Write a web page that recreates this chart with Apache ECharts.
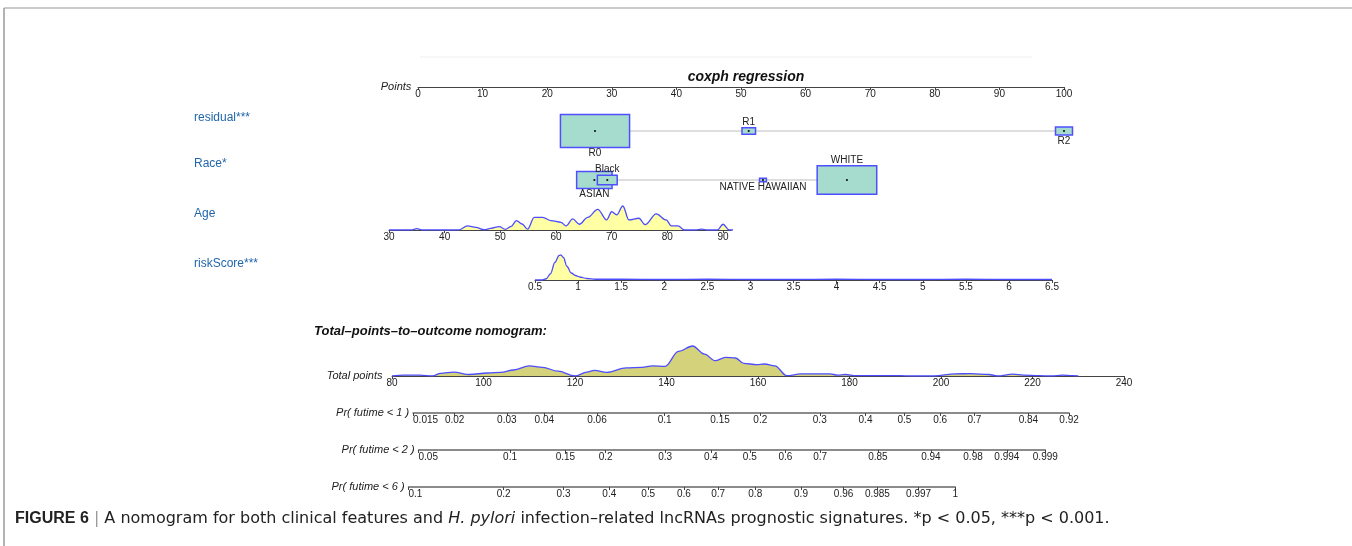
<!DOCTYPE html>
<html>
<head>
<meta charset="utf-8">
<script src="https://cdn.jsdelivr.net/npm/echarts@6/dist/echarts.min.js"></script>
<style>
  html, body { margin: 0; padding: 0; background: #fff; }
  #chart { width: 1352px; height: 546px; }
</style>
</head>
<body>
<div id="chart"></div>
<script>
// categorical predictors: points per level and share of patients (box size)
const residualLevels = ['R0', 'R1', 'R2']
const residualPoints = [27.4, 51.2, 100]
const residualFreq = [0.91, 0.035, 0.055]

const raceLevels = ['ASIAN', 'Black', 'NATIVE HAWAIIAN', 'WHITE']
const racePoints = [27.3, 29.3, 53.4, 66.4]
const raceFreq = [0.239, 0.075, 0.009, 0.676]

// Age density (relative height)
const ageX = [30, 34, 35, 36, 42.5, 44.1, 45.6, 47.1, 48.3, 49.8, 50.9, 51.9, 52.9, 53.9, 54.9, 56.1, 57.6, 59.1, 60.9, 61.8, 63, 64.2, 65.7, 67.5, 69.1, 70, 70.9, 72, 73.1, 74.9, 76, 78, 79.8, 80.7, 81.9, 83.1, 85, 86.1, 87.3, 89, 90, 91.1, 91.8]
const ageDens = [0, 0, 0.06, 0, 0, 0.17, 0.11, 0.01, 0.07, 0.14, 0.03, 0.14, 0.39, 0.25, 0.04, 0.53, 0.53, 0.39, 0.32, 0.17, 0.46, 0.24, 0.53, 0.86, 0.42, 0.76, 0.63, 1.0, 0.42, 0.49, 0.22, 0.67, 0.42, 0.17, 0.17, 0, 0, 0.04, 0, 0, 0.24, 0, 0]
const ageTicks = [30, 40, 50, 60, 70, 80, 90]

// riskScore density
const riskX = [0.5, 0.58, 0.63, 0.68, 0.73, 0.78, 0.8, 0.83, 0.87, 0.92, 0.97, 1.02, 1.1, 1.2, 1.5, 2, 2.5, 3, 3.5, 4, 4.5, 5, 5.5, 6, 6.5]
const riskDens = [0, 0, 0.05, 0.25, 0.7, 0.98, 1.0, 0.9, 0.55, 0.28, 0.18, 0.12, 0.06, 0.03, 0.03, 0.02, 0.03, 0.02, 0.02, 0.03, 0.02, 0.02, 0.03, 0.02, 0.02]

// total points density
const totalX = [80, 82.6, 86, 88.9, 90.6, 93.5, 96.9, 100.9, 103.8, 106.6, 110, 112.9, 116.3, 120, 122.6, 124.3, 126.9, 131.2, 134.6, 136.9, 139.7, 142.6, 145.7, 148.3, 150.6, 152.9, 155.1, 156.9, 159.7, 161.4, 163.7, 166.3, 169.4, 175.7, 177.4, 179.1, 181.4, 191.1, 193.4, 198.5, 203.1, 206.5, 210.5, 212.3, 215.7, 218, 221.4, 224.2, 226.5, 228.8, 230]
const totalDens = [0, 0.03, 0.03, 0, 0.09, 0.13, 0.05, 0.1, 0.12, 0.2, 0.34, 0.29, 0.16, 0, 0.13, 0.19, 0.12, 0.27, 0.29, 0.34, 0.32, 0.82, 1.0, 0.73, 0.51, 0.62, 0.6, 0.42, 0.38, 0.4, 0.34, 0.01, 0.07, 0.07, 0.03, 0.05, 0.01, 0.01, 0, 0, 0.07, 0.08, 0.05, 0, 0.06, 0.03, 0.01, 0, 0.03, 0.01, 0]

// probability scales: label and where it sits on the total-points scale
const pr1Labels = ['0.015', '0.02', '0.03', '0.04', '0.06', '0.1', '0.15', '0.2', '0.3', '0.4', '0.5', '0.6', '0.7', '0.84', '0.92']
const pr1Pos = [84.6, 93.7, 105.1, 113.3, 124.8, 139.6, 151.7, 160.5, 173.5, 183.5, 192.0, 199.8, 207.3, 219.1, 228.0]
const pr2Labels = ['0.05', '0.1', '0.15', '0.2', '0.3', '0.4', '0.5', '0.6', '0.7', '0.85', '0.94', '0.98', '0.994', '0.999']
const pr2Pos = [85.8, 105.8, 117.9, 126.7, 139.7, 149.7, 158.2, 166.0, 173.6, 186.2, 197.8, 207.0, 214.4, 222.8]
const pr6Labels = ['0.1', '0.2', '0.3', '0.4', '0.5', '0.6', '0.7', '0.8', '0.9', '0.96', '0.985', '0.997', '1']
const pr6Pos = [83.6, 104.4, 117.5, 127.5, 136.0, 143.8, 151.3, 159.4, 169.4, 178.7, 186.1, 195.1, 203.1]

const rowNames = ['residual***', 'Race*', 'Age', 'riskScore***']

// ---- layout ----
const FONT = "'Liberation Sans Narrow', 'Liberation Sans', Arial, sans-serif"
const CAP_FONT = "'DejaVu Sans', 'Liberation Sans', Arial, sans-serif"
const LINE = '#4d4dff'
const PTS_LEFT = 418, PTS_WIDTH = 646
const TOT_LEFT = 392, TOT_WIDTH = 732
const tpX = (v) => TOT_LEFT + (v - 80) * TOT_WIDTH / 160

const chart = echarts.init(document.getElementById('chart'), null, { renderer: 'canvas' })

const axisLabelBase = { fontSize: 10, color: '#222', fontFamily: FONT, margin: 2 }
const hiddenY = (max) => ({ type: 'value', min: 0, max, show: false })

function scaleAxis(grid, min, max, opts = {}) {
  return {
    type: 'value', gridIndex: grid, min, max,
    interval: opts.interval,
    splitLine: { show: false },
    axisLine: { show: opts.lineShow !== false, onZero: false, lineStyle: { color: opts.lineColor || '#444', width: opts.lineWidth || 1 } },
    axisTick: { show: opts.lineShow !== false, length: 3, lineStyle: { color: '#444' }, customValues: opts.ticks },
    axisLabel: Object.assign({}, axisLabelBase, {
      show: opts.lineShow !== false,
      customValues: opts.ticks,
      formatter: opts.formatter,
      alignMinLabel: opts.alignMin,
      showMinLabel: true,
      showMaxLabel: true,
    }),
    name: opts.name,
    nameLocation: 'start',
    nameGap: 3,
    nameTextStyle: { fontStyle: 'italic', fontSize: 11, color: '#222', fontFamily: FONT, verticalAlign: 'middle', padding: [0, 0, 4, 0] },
  }
}

const prGrid = (pos, bottomY) => ({
  left: tpX(pos[0]), width: tpX(pos[pos.length - 1]) - tpX(pos[0]),
  top: bottomY - 10, height: 10,
})

const grids = [
  { left: PTS_LEFT, width: PTS_WIDTH, top: 60, height: 27 },     // 0 points
  { left: PTS_LEFT, width: PTS_WIDTH, top: 115, height: 32 },    // 1 residual
  { left: PTS_LEFT, width: PTS_WIDTH, top: 165, height: 30 },    // 2 race
  { left: 389, width: 61.5 * 5.567, top: 203, height: 27 },      // 3 age
  { left: 535, width: 517, top: 252, height: 28 },               // 4 riskScore
  { left: TOT_LEFT, width: TOT_WIDTH, top: 342, height: 34 },    // 5 total points
  prGrid(pr1Pos, 413),                                           // 6
  prGrid(pr2Pos, 450),                                           // 7
  prGrid(pr6Pos, 487),                                           // 8
]

const labelOf = (labels, pos) => (v) => {
  const i = pos.findIndex((p) => Math.abs(p - v) < 1e-6)
  return i >= 0 ? labels[i] : ''
}

const xAxes = [
  scaleAxis(0, 0, 100, { interval: 10, name: 'Points' }),
  scaleAxis(1, 0, 100, { lineShow: false }),
  scaleAxis(2, 0, 100, { lineShow: false }),
  scaleAxis(3, 30, 91.5, { ticks: ageTicks }),
  scaleAxis(4, 0.5, 6.5, { interval: 0.5 }),
  scaleAxis(5, 80, 240, { interval: 20, name: 'Total points' }),
  scaleAxis(6, pr1Pos[0], pr1Pos[pr1Pos.length - 1], { ticks: pr1Pos, formatter: labelOf(pr1Labels, pr1Pos), name: 'Pr( futime < 1 )', lineColor: '#666', lineWidth: 1.5, alignMin: 'left' }),
  scaleAxis(7, pr2Pos[0], pr2Pos[pr2Pos.length - 1], { ticks: pr2Pos, formatter: labelOf(pr2Labels, pr2Pos), name: 'Pr( futime < 2 )', lineColor: '#666', lineWidth: 1.5, alignMin: 'left' }),
  scaleAxis(8, pr6Pos[0], pr6Pos[pr6Pos.length - 1], { ticks: pr6Pos, formatter: labelOf(pr6Labels, pr6Pos), name: 'Pr( futime < 6 )', lineColor: '#666', lineWidth: 1.5, alignMin: 'left' }),
]

const yAxes = [
  Object.assign(hiddenY(1), { gridIndex: 0 }),
  Object.assign(hiddenY(1), { gridIndex: 1 }),
  Object.assign(hiddenY(1), { gridIndex: 2 }),
  Object.assign(hiddenY(27 / 24), { gridIndex: 3 }),
  Object.assign(hiddenY(28 / 25), { gridIndex: 4 }),
  Object.assign(hiddenY(34 / 30), { gridIndex: 5 }),
  Object.assign(hiddenY(1), { gridIndex: 6 }),
  Object.assign(hiddenY(1), { gridIndex: 7 }),
  Object.assign(hiddenY(1), { gridIndex: 8 }),
]

// alternate labels below / above, starting below for the lowest-scoring level
function boxData(points, freq) {
  const order = points.map((p, i) => i).sort((a, b) => points[a] - points[b])
  const side = []
  order.forEach((idx, k) => { side[idx] = k % 2 === 0 ? -1 : 1 })
  return points.map((p, i) => [p, freq[i], side[i]])
}

function boxSeries(grid, levels, points, freq) {
  return [
    {
      type: 'line', xAxisIndex: grid, yAxisIndex: grid, silent: true, symbol: 'none', z: 1,
      lineStyle: { color: '#bdbdbd', width: 1 },
      data: [[Math.min(...points), 0.5], [Math.max(...points), 0.5]],
    },
    {
      type: 'custom', xAxisIndex: grid, yAxisIndex: grid, z: 3,
      renderItem: (params, api) => {
        const c = api.coord([api.value(0), 0.5])
        const h = Math.sqrt(api.value(1) * 2500 / 2.1)
        const w = h * 2.1
        const above = api.value(2) > 0
        return {
          type: 'group',
          children: [
            { type: 'rect', shape: { x: c[0] - w / 2, y: c[1] - h / 2, width: w, height: h },
              style: { fill: '#a6dccd', stroke: '#4f4fff', lineWidth: 1.5 } },
            { type: 'circle', shape: { cx: c[0], cy: c[1], r: 1.1 }, style: { fill: '#111' } },
            { type: 'text', x: c[0], y: above ? c[1] - h / 2 - 1 : c[1] + h / 2 + 1,
              style: { text: levels[params.dataIndex], align: 'center', verticalAlign: above ? 'bottom' : 'top',
                fontSize: 10, fill: '#222', fontFamily: FONT } },
          ],
        }
      },
      data: boxData(points, freq),
    },
  ]
}

function densitySeries(grid, xs, ys, fill) {
  return {
    type: 'line', xAxisIndex: grid, yAxisIndex: grid, symbol: 'none', smooth: 0.35, smoothMonotone: 'x',
    lineStyle: { color: LINE, width: 1.3 },
    areaStyle: { color: fill, opacity: 1 },
    data: xs.map((x, i) => [x, ys[i]]),
    z: 2,
  }
}

const rowY = [119, 165, 215, 265]

chart.setOption({
  animation: false,
  backgroundColor: '#fff',
  title: [
    { text: 'coxph regression', left: 741, top: 65, textAlign: 'center',
      textStyle: { fontSize: 14, fontWeight: 'bold', fontStyle: 'italic', color: '#111', fontFamily: FONT } },
    { text: 'Total\u2013points\u2013to\u2013outcome nomogram:', left: 309, top: 320,
      textStyle: { fontSize: 13, fontWeight: 'bold', fontStyle: 'italic', color: '#111', fontFamily: FONT } },
  ],
  grid: grids,
  xAxis: xAxes,
  yAxis: yAxes,
  series: [
    ...boxSeries(1, residualLevels, residualPoints, residualFreq),
    ...boxSeries(2, raceLevels, racePoints, raceFreq),
    densitySeries(3, ageX, ageDens, '#ffffa3'),
    densitySeries(4, riskX, riskDens, '#ffffa3'),
    densitySeries(5, totalX, totalDens, '#d5d27c'),
  ],
  graphic: [
    { type: 'line', shape: { x1: 4, y1: 8, x2: 1352, y2: 8 }, style: { stroke: '#cacaca', lineWidth: 2 } },
    { type: 'line', shape: { x1: 4, y1: 8, x2: 4, y2: 546 }, style: { stroke: '#9a9a9a', lineWidth: 1.5 } },
    { type: 'line', shape: { x1: 420, y1: 57, x2: 1032, y2: 57 }, style: { stroke: '#efefef', lineWidth: 1 } },
    ...rowNames.map((t, i) => ({
      type: 'text', left: 194, top: rowY[i] - 7,
      style: { text: t, fontSize: 12, fill: '#2166ac', fontFamily: "'Liberation Sans', Arial, sans-serif" },
    })),
    {
      type: 'text', left: 15, top: 511,
      style: {
        text: '{b|FIGURE 6} {s||} A nomogram for both clinical features and {i|H. pylori} infection\u2013related lncRNAs prognostic signatures. *p < 0.05, ***p < 0.001.',
        fontSize: 16, fill: '#222', fontFamily: CAP_FONT,
        rich: {
          b: { fontWeight: 'bold', fontSize: 16, fill: '#222', fontFamily: "'Liberation Sans', Arial, sans-serif" },
          i: { fontStyle: 'italic', fontSize: 16, fill: '#222', fontFamily: CAP_FONT },
          s: { fontSize: 16, fill: '#999', fontFamily: CAP_FONT },
        },
      },
    },
  ],
})
</script>
</body>
</html>
